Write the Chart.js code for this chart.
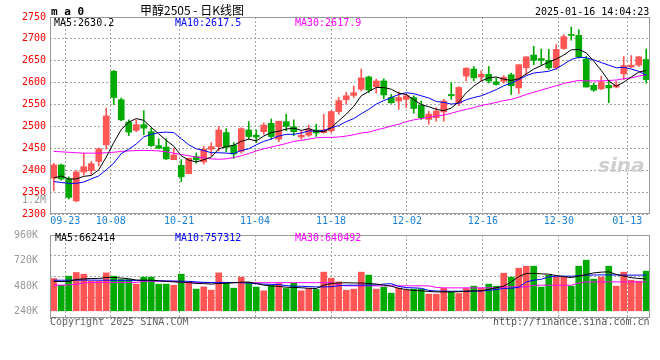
<!DOCTYPE html>
<html><head><meta charset="utf-8">
<script src="https://cdn.jsdelivr.net/npm/chart.js@4.4.1/dist/chart.umd.min.js"></script>
<style>
html,body{margin:0;padding:0;background:#fff;}
#wrap{position:relative;width:660px;height:360px;overflow:hidden;background:#fff;}
canvas{position:absolute;left:0;}
.t{position:absolute;white-space:pre;font-family:'DejaVu Sans Mono',monospace;font-size:10px;line-height:10px;color:#000;}
</style></head><body>
<div id="wrap">
<canvas id="pc" width="660" height="230" style="top:0px"></canvas>
<canvas id="vc" width="660" height="140" style="top:220px"></canvas>
<div class="t" style="left:51px;top:6px;font-size:11px;line-height:11px;font-weight:bold">m a 0</div>
<div class="t" style="left:140px;top:4px;font-family:'Noto Sans CJK SC',sans-serif;font-size:12px;line-height:12px;">甲醇2505 - 日K线图</div>
<div class="t" style="left:535px;top:7px;">2025-01-16 14:04:23</div>
<div class="t" style="left:54px;top:18px;">MA5:2630.2</div>
<div class="t" style="left:175px;top:18px;color:#0000ff">MA10:2617.5</div>
<div class="t" style="left:295px;top:18px;color:#ff00ff">MA30:2617.9</div>
<div class="t" style="left:22px;top:195px;color:#999">1.2M</div>
<div class="t" style="left:55px;top:233px;">MA5:662414</div>
<div class="t" style="left:175px;top:233px;color:#0000ff">MA10:757312</div>
<div class="t" style="left:295px;top:233px;color:#ff00ff">MA30:640492</div>
<div class="t" style="left:50px;top:317px;color:#666">Copyright 2025 SINA.COM</div>
<div class="t" style="left:493px;top:317px;color:#555">http://finance.sina.com.cn</div>
<div class="t" style="left:598px;top:155px;font-family:'DejaVu Sans',sans-serif;font-size:20px;line-height:20px;font-weight:bold;font-style:italic;color:#cfcfcf">sina</div>
</div>
<script>
const dates = ['09-19','09-20','09-23','09-24','09-25','09-26','09-27','09-30',
'10-08','10-09','10-10','10-11','10-14','10-15','10-16','10-17','10-18','10-21','10-22','10-23','10-24','10-25','10-28','10-29','10-30','10-31',
'11-01','11-04','11-05','11-06','11-07','11-08','11-11','11-12','11-13','11-14','11-15','11-18','11-19','11-20','11-21','11-22','11-25','11-26','11-27','11-28','11-29',
'12-02','12-03','12-04','12-05','12-06','12-09','12-10','12-11','12-12','12-13','12-16','12-17','12-18','12-19','12-20','12-23','12-24','12-25','12-26','12-27','12-30','12-31',
'01-02','01-03','01-06','01-07','01-08','01-09','01-10','01-13','01-14','01-15','01-16'];
const tickDates = ['09-23','10-08','10-21','11-04','11-18','12-02','12-16','12-30','01-13'];
const priceTicks = [2300,2350,2400,2450,2500,2550,2600,2650,2700,2750];
const volTicks = [240000,480000,720000,960000];
const volTickLabels = ['240K','480K','720K','960K'];

const open = [2382,2412,2380,2330,2396,2399,2420,2458,2626,2561,
2510,2491,2504,2488,2456,2453,2424,2411,2392,2431,
2419,2448,2454,2486,2457,2443,2492,2480,2488,2507,
2471,2511,2499,2476,2480,2492,2486,2490,2534,2561,
2571,2585,2613,2591,2604,2566,2558,2562,2566,2548,
2516,2520,2533,2573,2553,2615,2631,2613,2619,2602,
2603,2618,2588,2634,2663,2655,2651,2634,2678,2710,
2708,2654,2594,2586,2594,2590,2620,2636,2640,2653];
const high = [2416,2414,2385,2399,2439,2420,2451,2542,2628,2565,
2515,2515,2536,2496,2472,2472,2450,2424,2428,2439,
2454,2463,2500,2495,2463,2497,2511,2492,2508,2517,
2512,2528,2515,2490,2503,2505,2528,2536,2566,2578,
2592,2631,2615,2608,2609,2573,2579,2573,2570,2558,
2535,2543,2562,2600,2591,2634,2637,2627,2637,2611,
2616,2622,2641,2659,2683,2677,2676,2687,2710,2727,
2721,2660,2599,2615,2603,2603,2660,2662,2660,2677];
const low = [2353,2377,2334,2328,2389,2390,2410,2448,2550,2513,
2479,2488,2481,2454,2449,2424,2424,2374,2392,2416,
2414,2433,2444,2442,2427,2439,2471,2463,2482,2471,
2465,2490,2479,2471,2477,2477,2485,2486,2528,2551,
2566,2581,2577,2576,2563,2553,2539,2543,2530,2516,
2505,2512,2512,2562,2547,2604,2604,2604,2599,2594,
2599,2573,2575,2618,2641,2641,2630,2630,2676,2697,
2656,2590,2580,2584,2554,2588,2607,2634,2637,2599];
const close = [2412,2380,2338,2396,2408,2415,2449,2524,2566,2515,
2487,2504,2496,2456,2450,2426,2435,2385,2427,2424,
2448,2454,2492,2452,2437,2495,2477,2476,2503,2477,
2512,2500,2488,2480,2494,2485,2492,2534,2559,2570,
2577,2611,2583,2604,2572,2554,2566,2570,2541,2520,
2528,2535,2558,2570,2589,2633,2611,2619,2604,2596,
2612,2593,2641,2659,2651,2651,2634,2676,2705,2708,
2659,2590,2583,2602,2588,2595,2639,2640,2659,2607];
const ma5 = [2382,2387,2380,2380,2386,2388,2401,2430,2463,2493,
2510,2518,2514,2498,2483,2468,2455,2433,2423,2419,
2424,2430,2449,2454,2457,2466,2471,2467,2478,2486,
2489,2494,2496,2491,2495,2489,2488,2497,2513,2528,
2546,2570,2580,2589,2589,2585,2576,2573,2561,2550,
2545,2539,2536,2542,2556,2577,2592,2604,2611,2613,
2608,2605,2609,2620,2631,2639,2647,2654,2663,2675,
2676,2668,2649,2628,2604,2592,2601,2613,2624,2628];
const ma10 = [2374,2372,2370,2370,2373,2380,2387,2401,2416,2438,
2448,2460,2476,2482,2486,2487,2486,2472,2458,2449,
2445,2440,2440,2439,2438,2445,2449,2458,2466,2471,
2478,2482,2482,2485,2490,2489,2491,2497,2502,2511,
2518,2529,2539,2551,2559,2566,2573,2577,2575,2570,
2565,2557,2555,2551,2553,2561,2566,2570,2577,2584,
2593,2599,2607,2616,2622,2624,2626,2632,2642,2653,
2658,2657,2652,2646,2640,2634,2635,2631,2626,2617];
const ma30 = [2443,2442,2441,2440,2439,2439,2439,2440,2441,2443,
2444,2445,2445,2445,2444,2442,2439,2436,2433,2430,
2428,2426,2425,2426,2429,2433,2438,2444,2449,2453,
2457,2461,2466,2468,2471,2474,2475,2475,2476,2478,
2481,2485,2487,2492,2496,2501,2505,2511,2515,2518,
2521,2524,2526,2530,2535,2539,2543,2548,2551,2555,
2559,2562,2567,2573,2578,2583,2588,2593,2598,2602,
2605,2604,2604,2604,2605,2606,2609,2611,2615,2618];
const volume = [552,489,574,609,593,527,527,605,574,543,
543,499,565,565,499,499,489,593,515,452,
473,442,605,511,461,565,518,471,436,487,
505,458,508,436,458,449,612,555,520,442,
452,612,584,452,471,414,461,442,452,452,
405,405,461,424,411,458,480,461,499,480,
602,565,649,668,668,471,584,565,565,480,
668,725,546,565,668,480,612,536,527,621].map(v => v * 1000);
const volMa5 = [524,524,524,543,548,552,552,562,562,556,
550,538,536,536,530,525,520,518,515,505,
504,500,505,508,512,517,518,505,490,482,
478,470,468,465,460,458,490,505,510,512,
510,510,505,500,490,480,460,448,440,436,
430,426,426,426,428,432,436,436,450,465,
480,520,570,600,600,596,593,580,570,560,
575,590,605,612,615,590,575,560,552,548].map(v => v * 1000);
const volMa10 = [536,536,536,537,537,537,536,536,535,535,
535,534,533,532,530,529,528,527,525,520,
516,515,515,515,514,513,510,503,499,497,
495,485,480,479,476,473,473,475,484,489,
489,490,490,492,500,503,478,466,464,460,
440,434,433,432,432,432,433,435,440,448,
458,460,470,520,536,545,568,574,574,574,
578,584,585,586,586,585,585,584,584,584].map(v => v * 1000);
const volMa30 = [489,489,492,498,510,515,515,515,515,515,
515,515,527,527,527,527,527,515,513,513,
513,513,513,513,513,513,513,513,513,513,
513,513,513,513,513,513,513,513,490,483,
483,483,483,483,483,483,483,483,483,483,
483,468,464,464,464,464,464,464,464,464,
473,473,473,473,489,489,489,489,489,489,
510,520,520,520,520,520,520,520,520,520].map(v => v * 1000);

const UP = 'rgb(255,85,85)', DOWN = 'rgb(0,170,0)';
const GRID = '#a4a4a4', FRAME = '#999999';
const candleColors = close.map((c, i) => c >= open[i] ? UP : DOWN);
const tickIdx = tickDates.map(d => dates.indexOf(d));
const MONO = "'DejaVu Sans Mono', monospace";
Chart.defaults.font.family = MONO;
Chart.defaults.font.size = 10;

const framePlugin = {
  id: 'frame',
  afterDraw(chart) {
    const { ctx, chartArea: a } = chart;
    ctx.save();
    ctx.strokeStyle = FRAME; ctx.lineWidth = 1;
    ctx.strokeRect(Math.round(a.left) + 0.5, Math.round(a.top) + 0.5, Math.round(a.right - a.left) - 1, Math.round(a.bottom - a.top) - 1);
    ctx.restore();
  }
};
const pts = arr => arr.map((v, i) => ({ x: i, y: v }));
const lineDs = (label, arr, color, yID) => ({
  type: 'line', label, data: pts(arr), borderColor: color, borderWidth: 1,
  pointRadius: 0, tension: 0, fill: false, order: 0, xAxisID: 'x', yAxisID: yID
});
const gridX = (showLabels, h) => ({
  type: 'linear', min: 0, max: dates.length - 1, position: 'bottom', offset: false,
  afterBuildTicks: s => { s.ticks = tickIdx.map(v => ({ value: v })); },
  afterFit: s => { s.height = h; },
  ticks: { display: showLabels, autoSkip: false, maxRotation: 0, padding: 1, color: '#1a7fd4',
           callback: v => dates[v] },
  grid: { display: true, color: GRID, drawTicks: false, offset: false },
  border: { display: false, dash: [2, 2] }
});
const candleX = { type: 'linear', min: -0.5, max: dates.length - 0.5, display: false, offset: false, grid: { offset: false } };

new Chart(document.getElementById('pc'), {
  type: 'bar',
  data: { datasets: [
    lineDs('MA5', ma5, '#000000', 'y'),
    lineDs('MA10', ma10, '#0000ff', 'y'),
    lineDs('MA30', ma30, '#ff00ff', 'y'),
    { label: 'body', data: open.map((o, i) => ({ x: i, y: [o, close[i]] })), backgroundColor: candleColors,
      barThickness: 6, grouped: false, minBarLength: 1, order: 1, xAxisID: 'x', yAxisID: 'y' },
    { label: 'wick', data: low.map((l, i) => ({ x: i, y: [l, high[i]] })), backgroundColor: candleColors,
      barThickness: 1, grouped: false, order: 2, xAxisID: 'x', yAxisID: 'y' }
  ]},
  options: {
    responsive: false, animation: false, events: [],
    layout: { padding: { left: 0, right: 10, top: 17, bottom: 0 } },
    plugins: { legend: { display: false }, tooltip: { enabled: false } },
    scales: {
      x: candleX,
      xg: gridX(true, 16),
      y: { type: 'linear', min: 2300, max: 2750, position: 'left',
           afterBuildTicks: s => { s.ticks = priceTicks.map(v => ({ value: v })); },
           afterFit: s => { s.width = 50; },
           ticks: { color: '#ff0000', padding: 4, callback: v => String(v) },
           grid: { color: GRID, drawTicks: false },
           border: { display: false, dash: [2, 2] } }
    }
  },
  plugins: [framePlugin]
});

new Chart(document.getElementById('vc'), {
  type: 'bar',
  data: { datasets: [
    lineDs('MA5', volMa5, '#000000', 'y'),
    lineDs('MA10', volMa10, '#0000ff', 'y'),
    lineDs('MA30', volMa30, '#ff00ff', 'y'),
    { label: 'volume', data: pts(volume), backgroundColor: candleColors, base: 248000,
      barThickness: 6, grouped: false, order: 1, xAxisID: 'x', yAxisID: 'y' }
  ]},
  options: {
    responsive: false, animation: false, events: [],
    layout: { padding: { left: 0, right: 10, top: 15, bottom: 42 } },
    plugins: { legend: { display: false }, tooltip: { enabled: false } },
    scales: {
      x: candleX,
      xg: gridX(false, 0),
      y: { type: 'linear', min: 180000, max: 962000, position: 'left',
           afterBuildTicks: s => { s.ticks = volTicks.map(v => ({ value: v })); },
           afterFit: s => { s.width = 50; },
           ticks: { color: '#999999', padding: 4, callback: v => volTickLabels[volTicks.indexOf(v)] },
           grid: { display: false },
           border: { display: false } },
      yg: { type: 'linear', min: 0, max: 4, position: 'right',
            ticks: { display: false, stepSize: 1 },
            afterFit: s => { s.width = 0; },
            grid: { color: GRID, drawTicks: false },
            border: { display: false, dash: [2, 2] } }
    }
  },
  plugins: [framePlugin]
});
</script>
</body></html>
